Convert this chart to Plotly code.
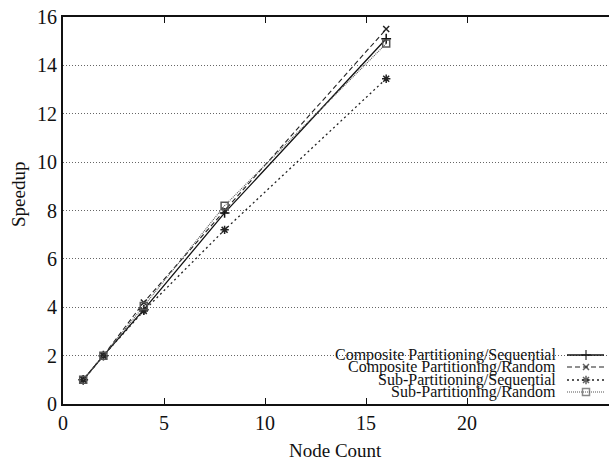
import plotly.graph_objects as go

nodes = [1, 2, 4, 8, 16]
series_names = [
    "Composite Partitioning/Sequential",
    "Composite Partitioning/Random",
    "Sub-Partitioning/Sequential",
    "Sub-Partitioning/Random",
]
comp_seq = [1.0, 2.0, 3.9, 7.9, 15.1]
comp_rand = [1.0, 2.0, 4.2, 8.0, 15.5]
sub_seq = [1.0, 2.0, 3.85, 7.2, 13.45]
sub_rand = [1.0, 2.0, 4.05, 8.2, 14.9]
y_ticks = [0, 2, 4, 6, 8, 10, 12, 14, 16]
x_ticks = [0, 5, 10, 15, 20]

series = [comp_seq, comp_rand, sub_seq, sub_rand]
styles = [
    dict(dash="solid", width=1.3, color="#111", symbol="cross-thin", msize=7),
    dict(dash="5px,3px", width=1.1, color="#222", symbol="x-thin", msize=6),
    dict(dash="2px,3px", width=1.3, color="#222", symbol="asterisk", msize=7),
    dict(dash="1px,1px", width=1.1, color="#555", symbol="square-open", msize=7),
]

FONT = "Liberation Serif"
H, W = 464, 609
ML, MR, MT, MB = 63, 0, 17, 60
fig = go.Figure()
for name, vals, st in zip(series_names, series, styles):
    fig.add_trace(go.Scatter(
        x=nodes, y=vals, mode="lines+markers", name=name, showlegend=False,
        line=dict(color=st["color"], width=st["width"], dash=st["dash"]),
        marker=dict(symbol=st["symbol"], size=st["msize"], color=st["color"],
                    line=dict(color=st["color"], width=1.5)),
    ))

# custom legend: text right-aligned, sample on the right
leg_y = [355, 367, 380, 392]  # pixel rows
for i, (name, st) in enumerate(zip(series_names, styles)):
    yp = (H - MB - leg_y[i]) / (H - MB - MT)
    fig.add_annotation(x=(558 - ML) / (W - ML), y=yp, xref="paper", yref="paper", text=name,
                       showarrow=False, xanchor="right", yanchor="middle",
                       font=dict(family=FONT, size=16, color="#111"))
    fig.add_trace(go.Scatter(
        x=[(567 - ML) / (W - ML), (586 - ML) / (W - ML), (604 - ML) / (W - ML)],
        y=[yp, yp, yp], xaxis="x2", yaxis="y2", mode="lines+markers",
        showlegend=False, hoverinfo="skip",
        line=dict(color=st["color"], width=st["width"], dash=st["dash"]),
        marker=dict(symbol=st["symbol"], size=[0, st["msize"], 0], color=st["color"],
                    line=dict(color=st["color"], width=1.5)),
    ))

# axis titles
fig.add_annotation(x=(335 - ML) / (W - ML), y=(H - MB - 450) / (H - MB - MT), xref="paper", yref="paper",
                   text="Node Count", showarrow=False, xanchor="center", yanchor="middle",
                   font=dict(family=FONT, size=19, color="#111"))
fig.add_annotation(x=(18 - ML) / (W - ML), y=(H - MB - 195) / (H - MB - MT), xref="paper", yref="paper",
                   text="Speedup", showarrow=False, xanchor="center", yanchor="middle", textangle=-90,
                   font=dict(family=FONT, size=19, color="#111"))

fig.update_layout(
    width=W, height=H,
    margin=dict(l=ML, r=MR, t=MT, b=MB, autoexpand=False),
    paper_bgcolor="white", plot_bgcolor="white",
    font=dict(family=FONT, size=20, color="#111"),
    showlegend=False,
    xaxis=dict(range=[0, 27.03], tickvals=x_ticks, ticks="inside", ticklen=6,
               tickcolor="#111", showgrid=False, zeroline=False, automargin=False,
               showline=True, linecolor="#111", linewidth=2, mirror="ticks",
               tickfont=dict(size=20)),
    yaxis=dict(range=[0, 16], tickvals=y_ticks, ticks="", showgrid=True,
               gridcolor="#666", griddash="1px,2px", gridwidth=1, automargin=False,
               zeroline=False, showline=True, linecolor="#111", linewidth=2,
               mirror=True, tickfont=dict(size=20)),
    xaxis2=dict(domain=[0, 1], range=[0, 1], overlaying="x", visible=False, anchor="y2"),
    yaxis2=dict(domain=[0, 1], range=[0, 1], overlaying="y", visible=False, anchor="x2"),
)
fig.write_html("out.html", config={"displayModeBar": False})

# remove the browser's default page margin so the figure sits at the top-left corner
with open("out.html", "r", encoding="utf-8") as f:
    html = f.read()
html = html.replace("<head>", "<head><style>html,body{margin:0;padding:0;overflow:hidden;}</style>", 1)
with open("out.html", "w", encoding="utf-8") as f:
    f.write(html)
